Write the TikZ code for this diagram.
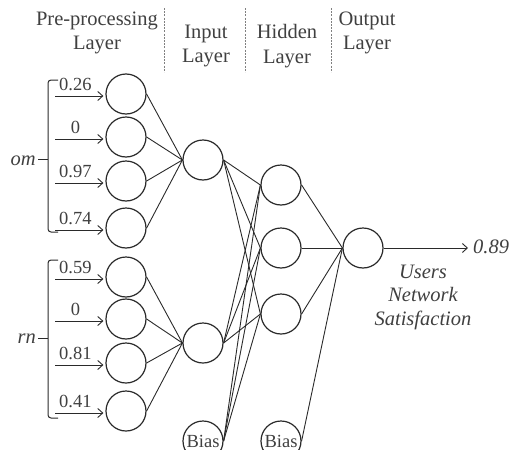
\documentclass[tikz,border=0pt]{standalone}
\usepackage{fontspec}
\setmainfont{Liberation Serif}
\newfontfamily\tnr{Liberation Serif}
\usetikzlibrary{arrows.meta,calc}
\definecolor{txt}{HTML}{404040}
\definecolor{ln}{HTML}{2A2A2A}
\begin{document}
\begin{tikzpicture}[x=1pt,y=-1pt,
  neuron/.style={circle,draw=ln,line width=1.2pt,minimum size=40pt,inner sep=0pt,text=txt,font=\tnr\fontsize{18.5}{20}\selectfont},
  conn/.style={draw=ln,line width=0.9pt},
  inarrow/.style={draw=ln,line width=0.9pt,-{Straight Barb[length=5pt,width=9pt]}},
  numlabel/.style={text=txt,font=\tnr\fontsize{18.5}{20}\selectfont,inner sep=0pt},
  header/.style={text=txt,align=center,font=\tnr\fontsize{20.5}{24.5}\selectfont,inner sep=0pt},
  itext/.style={text=txt,align=center,font=\tnr\fontsize{20.5}{23.5}\selectfont\itshape,inner sep=0pt},
  sep/.style={draw=gray,line width=0.8pt,dash pattern=on 2pt off 1.2pt},
  bracket/.style={draw=ln,line width=1pt,rounded corners=3pt}]
\clip (0,0) rectangle (517,450);
\useasboundingbox (0,0) rectangle (517,450);

% headers
\node[header] (hpre) at (97,33) {Pre-processing\\Layer};
\node[header] (hin) at (206,46) {Input\\Layer};
\node[header] (hhid) at (287,46) {Hidden\\Layer};
\node[header] (hout) at (367,33) {Output\\Layer};
\draw[sep] (164,8) coordinate (s1a) -- (164,72) coordinate (s1b);
\draw[sep] (245,8) coordinate (s2a) -- (245,72) coordinate (s2b);
\draw[sep] (331,8) coordinate (s3a) -- (331,72) coordinate (s3b);

% pre-processing neurons
\node[neuron] (p1) at (126,94) {};
\node[neuron] (p2) at (126,137) {};
\node[neuron] (p3) at (126,181) {};
\node[neuron] (p4) at (126,228) {};
\node[neuron] (q1) at (126,277) {};
\node[neuron] (q2) at (126,319) {};
\node[neuron] (q3) at (126,363) {};
\node[neuron] (q4) at (126,411) {};

% input
\node[neuron] (i1) at (203,160) {};
\node[neuron] (i2) at (203,343) {};
% hidden
\node[neuron] (h1) at (281,185) {};
\node[neuron] (h2) at (281,248) {};
\node[neuron] (h3) at (281,314) {};
% output
\node[neuron] (o) at (363,248) {};
% bias
\node[neuron] (b1) at (203,441) {Bias};
\node[neuron] (b2) at (281,441) {Bias};

% input arrows and labels
\foreach \n/\v in {p1/0.26,p2/0,p3/0.97,p4/0.74,q1/0.59,q2/0,q3/0.81,q4/0.41}{
  \coordinate (a\n) at ($(\n.west)+(-50,2)$);
  \coordinate (e\n) at ($(\n.west)+(-2,2)$);
  \draw[inarrow] (a\n) -- (e\n);
  \node[numlabel,anchor=base] (l\n) at ($(\n.west)+(-30,-4)$) {\v};
}

% brackets
\draw[bracket] (58,80) -- (48,80) -- (48,232) -- (58,232);
\draw[bracket] (58,260) -- (48,260) -- (48,418) -- (58,418);
\node[itext,anchor=east] (om) at (36,161) {om};
\node[itext,anchor=east] (rn) at (36,339) {rn};
\coordinate (br1) at (48,159);
\coordinate (br2) at (48,338);
\coordinate (om1) at ($(om.east)+(2,-2)$);
\coordinate (rn1) at ($(rn.east)+(2,-1)$);
\draw[conn,line width=1pt] (om1) -- (br1);
\draw[conn,line width=1pt] (rn1) -- (br2);

% connections
\foreach \n in {p1,p2,p3,p4} \draw[conn] (\n.east) -- (i1.west);
\foreach \n in {q1,q2,q3,q4} \draw[conn] (\n.east) -- (i2.west);
\foreach \s in {i1,i2,b1} \foreach \h in {h1,h2,h3} \draw[conn] (\s.east) -- (\h.west);
\foreach \h in {h1,h2,h3,b2} \draw[conn] (\h.east) -- (o.west);

% output
\coordinate (oend) at (468,248);
\draw[inarrow] (o.east) -- (oend);
\node[itext,anchor=west] (val) at (473,247) {0.89};
\node[itext] (uns) at (423,297) {Users\\Network\\Satisfaction};
\end{tikzpicture}
\end{document}
